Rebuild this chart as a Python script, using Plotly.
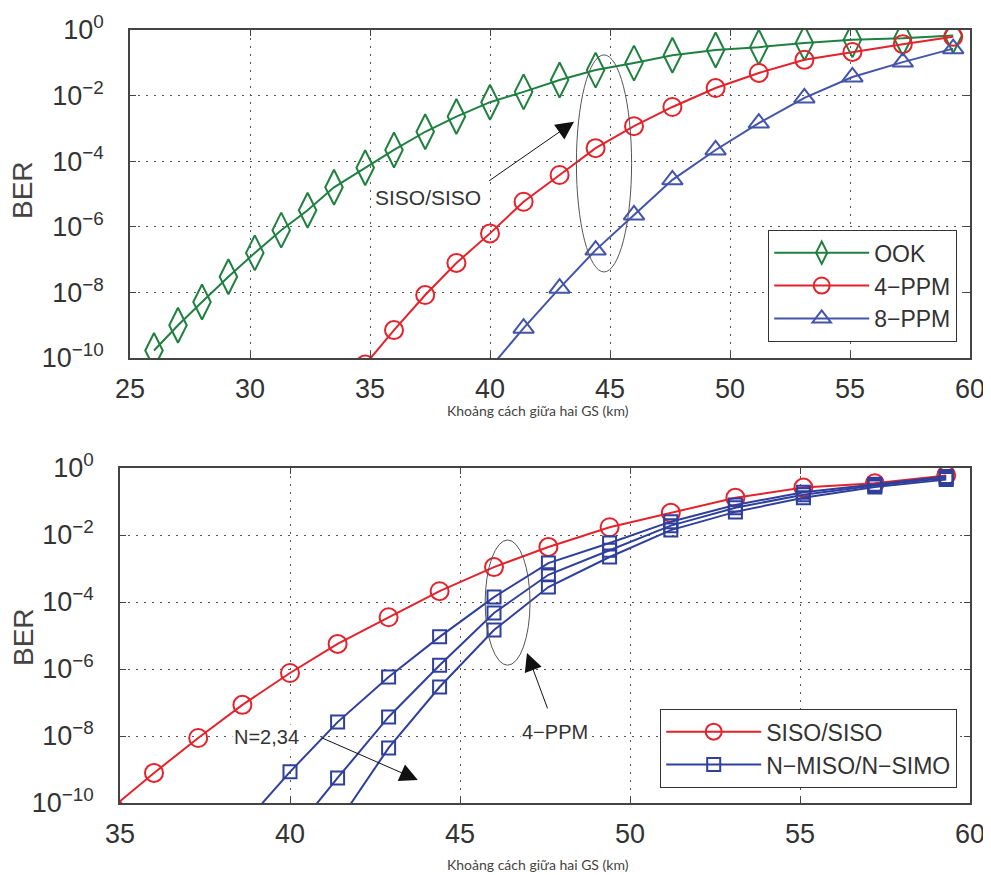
import plotly.graph_objects as go

# ---------------- data ----------------
# top panel: distance grid (km)
dist_top = [26.0, 27.0, 28.0, 29.1, 30.2, 31.3, 32.4, 33.5, 34.8, 36.0, 37.3, 38.6,
            40.0, 41.4, 42.9, 44.4, 46.0, 47.6, 49.4, 51.2, 53.1, 55.1, 57.2, 59.3]
ber_ook = [1.7e-10, 1.0e-9, 5.1e-9, 3.0e-8, 1.6e-7, 7.9e-7, 3.2e-6, 1.6e-5, 6.3e-5, 2.2e-4,
           7.9e-4, 2.3e-3, 6.3e-3, 1.3e-2, 3.0e-2, 6.0e-2, 9.8e-2, 0.17, 0.245, 0.30,
           0.40, 0.50, 0.56, 0.68]
ber_4ppm = [None, None, None, None, None, None, None, None, 6.3e-11, 7.1e-10,
            8.3e-9, 7.9e-8, 6.3e-7, 5.8e-6, 3.8e-5, 2.5e-4, 1.17e-3, 4.5e-3, 1.7e-2, 4.9e-2,
            0.123, 0.214, 0.37, 0.62]
ber_8ppm = [None, None, None, None, None, None, None, None, None, None,
            None, None, 5.0e-11, 8.1e-10, 1.35e-8, 1.95e-7, 2.3e-6, 2.7e-5, 2.2e-4, 1.45e-3,
            8.5e-3, 3.7e-2, 0.105, 0.27]

# bottom panel
dist_bot = [34.8, 36.0, 37.3, 38.6, 40.0, 41.4, 42.9, 44.4, 46.0, 47.6, 49.4, 51.2,
            53.1, 55.1, 57.2, 59.3]
ber_siso = [7.6e-11, 7.9e-10, 8.7e-9, 8.5e-8, 7.6e-7, 5.6e-6, 3.5e-5, 2.1e-4, 1.1e-3, 4.4e-3,
            1.7e-2, 4.6e-2, 0.13, 0.26, 0.35, 0.60]
ber_n2 = [None, None, None, 2.1e-11, 8.5e-10, 2.6e-8, 5.8e-7, 9.1e-6, 1.4e-4, 1.45e-3,
          5.8e-3, 2.5e-2, 7.9e-2, 0.19, 0.33, 0.56]
ber_n3 = [None, None, None, None, 1.0e-11, 5.6e-10, 3.7e-8, 1.3e-6, 4.7e-5, 6.5e-4,
          3.5e-3, 1.9e-2, 6.5e-2, 0.16, 0.30, 0.50]
ber_n4 = [None, None, None, None, None, 2.5e-11, 4.4e-9, 2.9e-7, 1.45e-5, 2.8e-4,
          2.2e-3, 1.4e-2, 4.9e-2, 0.13, 0.27, 0.45]

y_tickvals = [1e-10, 1e-8, 1e-6, 1e-4, 1e-2, 1e0]
y_ticktext = ["10<sup>\u221210</sup>", "10<sup>\u22128</sup>", "10<sup>\u22126</sup>",
              "10<sup>\u22124</sup>", "10<sup>\u22122</sup>", "10<sup>0</sup>"]
x_ticks_top = [25, 30, 35, 40, 45, 50, 55, 60]
x_ticks_bot = [35, 40, 45, 50, 55, 60]

xlabel = "Khoảng cách giữa hai GS (km)"

# ---------------- styling ----------------
OFF = 8                      # page body margin
W, H = 991 - OFF, 875 - OFF  # figure size inside the window
FONT = "Liberation Sans, Arial, sans-serif"
GREEN = "#1f8040"
RED = "#e5222b"
BLUE = "#4454aa"
BLUE2 = "#2f3f9c"
AX = "#444444"


def px(x):
    return (x - OFF) / W


def py(y):
    return 1 - (y - OFF) / H


fig = go.Figure()


def add(x, y, name, color, symbol, size, xa, ya, show=True, group=None):
    fig.add_trace(go.Scatter(
        x=x, y=y, name=name, mode="lines+markers",
        line=dict(color=color, width=2),
        marker=dict(symbol=symbol, size=size, color=color,
                    line=dict(color=color, width=2)),
        xaxis=xa, yaxis=ya, showlegend=show, legend="legend" if xa == "x" else "legend2",
        legendgroup=group, connectgaps=False))


add(dist_top, ber_ook, "OOK", GREEN, "diamond-tall-open", 25, "x", "y")
add(dist_top, ber_4ppm, "4\u2212PPM", RED, "circle-open", 18, "x", "y")
add(dist_top, ber_8ppm, "8\u2212PPM", BLUE, "triangle-up-open", 18, "x", "y")

add(dist_bot, ber_siso, "SISO/SISO", RED, "circle-open", 18, "x2", "y2")
add(dist_bot, ber_n2, "N\u2212MISO/N\u2212SIMO", BLUE2, "square-open", 13, "x2", "y2", True, "n")
add(dist_bot, ber_n3, "N\u2212MISO/N\u2212SIMO", BLUE2, "square-open", 13, "x2", "y2", False, "n")
add(dist_bot, ber_n4, "N\u2212MISO/N\u2212SIMO", BLUE2, "square-open", 13, "x2", "y2", False, "n")

# domains (pixel layout of the reference)
top_x = [px(130), px(970)]
top_y = [py(358), py(30)]
bot_x = [px(120), px(970)]
bot_y = [py(803), py(468)]

common_x = dict(showline=True, linecolor=AX, linewidth=1.5, mirror="ticks",
                ticks="inside", ticklen=6, tickcolor=AX, automargin=False,
                showgrid=True, gridcolor="#555555", griddash="2px,6px", gridwidth=1,
                zeroline=False, tickfont=dict(family=FONT, size=27, color="#333333"),
                ticklabelstandoff=6)
common_y = dict(type="log", range=[-10, 0], tickvals=y_tickvals, ticktext=y_ticktext,
                showline=True, linecolor=AX, linewidth=1.5, mirror="ticks",
                ticks="inside", ticklen=6, tickcolor=AX, automargin=False,
                showgrid=True, gridcolor="#555555", griddash="2px,6px", gridwidth=1,
                zeroline=False, tickfont=dict(family=FONT, size=27, color="#333333"),
                ticklabelstandoff=19)

legend_common = dict(xanchor="right", yanchor="bottom",
                     bgcolor="white", bordercolor="#333333", borderwidth=1.2,
                     font=dict(family=FONT, size=23, color="#333333"),
                     itemwidth=95, tracegroupgap=0)

fig.update_layout(
    width=W, height=H,
    margin=dict(l=0, r=0, t=0, b=0, autoexpand=False),
    paper_bgcolor="white", plot_bgcolor="white",
    xaxis=dict(domain=top_x, anchor="y", range=[25, 60], tickvals=x_ticks_top, **common_x),
    yaxis=dict(domain=top_y, anchor="x", **common_y),
    xaxis2=dict(domain=bot_x, anchor="y2", range=[35, 60], tickvals=x_ticks_bot, **common_x),
    yaxis2=dict(domain=bot_y, anchor="x2", **common_y),
    legend=dict(x=px(957), y=py(342), **legend_common),
    legend2=dict(x=px(957), y=py(788), **legend_common),
    showlegend=True,
)

# ellipses
fig.add_shape(type="circle", xref="x", yref="y", x0=43.6, x1=45.9, y0=4.2e-8, y1=0.174,
              line=dict(color="#555555", width=1))
fig.add_shape(type="circle", xref="x2", yref="y2", x0=45.74, x1=47.06, y0=1.3e-6, y1=7.1e-3,
              line=dict(color="#555555", width=1))

# arrows + texts
fig.add_annotation(x=43.5, y=-2.8, ax=39.9, ay=-4.63, xref="x", yref="y", axref="x", ayref="y",
                   showarrow=True, arrowhead=2, arrowsize=3.6, arrowwidth=1, arrowcolor="#111111", text="")
fig.add_annotation(x=37.42, y=-5.12, xref="x", yref="y", text="SISO/SISO", showarrow=False,
                   font=dict(family=FONT, size=21, color="#333333"), bgcolor="white")
fig.add_annotation(x=46.97, y=-5.52, ax=47.59, ay=-7.22, xref="x2", yref="y2", axref="x2", ayref="y2",
                   showarrow=True, arrowhead=2, arrowsize=3.6, arrowwidth=1, arrowcolor="#111111", text="")
fig.add_annotation(x=47.8, y=-7.88, xref="x2", yref="y2", text="4\u2212PPM", showarrow=False,
                   font=dict(family=FONT, size=20, color="#333333"), bgcolor="white")
fig.add_annotation(x=43.76, y=-9.31, ax=40.88, ay=-8.03, xref="x2", yref="y2", axref="x2", ayref="y2",
                   showarrow=True, arrowhead=2, arrowsize=3.6, arrowwidth=1, arrowcolor="#111111", text="")
fig.add_annotation(x=39.32, y=-8.03, xref="x2", yref="y2", text="N=2,34", showarrow=False,
                   font=dict(family=FONT, size=20, color="#333333"), bgcolor="white")

# axis titles as annotations
for yy in (411, 864):
    fig.add_annotation(x=px(538), y=py(yy), xref="paper", yref="paper", text=xlabel,
                       xanchor="center", yanchor="middle", showarrow=False,
                       font=dict(family="Lato, sans-serif", size=14, color="#444444"))
for yy in (190, 637):
    fig.add_annotation(x=px(23), y=py(yy), xref="paper", yref="paper", text="BER",
                       xanchor="center", yanchor="middle", textangle=-90, showarrow=False,
                       font=dict(family=FONT, size=28, color="#444444"))

fig.write_html("out.html")
